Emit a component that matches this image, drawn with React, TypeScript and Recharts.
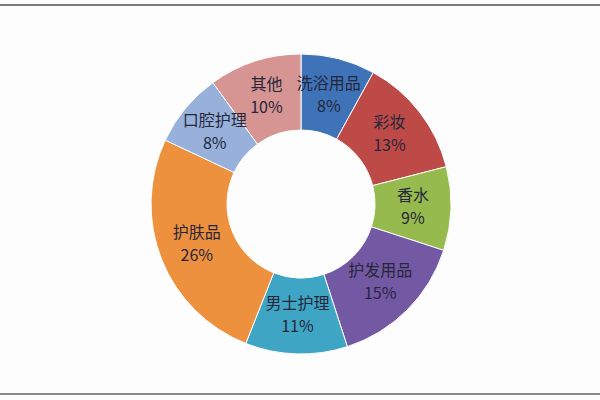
import React from 'react';
import { PieChart, Pie, Cell } from 'recharts';

const categories = ['洗浴用品', '彩妆', '香水', '护发用品', '男士护理', '护肤品', '口腔护理', '其他'];
const shares = [8, 13, 9, 15, 11, 26, 8, 10];
const COLORS = ['#3F73B8', '#BD4A47', '#97BA4E', '#7359A4', '#3FA5C4', '#EE913F', '#97B1DA', '#D69593'];

const data = categories.map((name, i) => ({ name, value: shares[i] }));

const RADIAN = Math.PI / 180;

const renderLabel = (props: any) => {
  const { cx, cy, midAngle, innerRadius, outerRadius, index } = props;
  const r = (innerRadius + outerRadius) / 2;
  const x = cx + r * Math.cos(-midAngle * RADIAN);
  const y = cy + r * Math.sin(-midAngle * RADIAN);
  return (
    <text
      x={x}
      y={y}
      textAnchor="middle"
      fill="#26263a"
      fontSize={16}
      fontFamily="'Noto Sans CJK SC', sans-serif"
    >
      <tspan x={x} dy={-7}>{categories[index]}</tspan>
      <tspan x={x} dy={23}>{shares[index]}%</tspan>
    </text>
  );
};

const App: React.FC = () => {
  return (
    <div
      style={{
        position: 'absolute',
        left: 0,
        top: 0,
        width: 600,
        height: 400,
        background: '#fdfdfe'
      }}
    >
      {/* frame lines top and bottom */}
      <div style={{ position: 'absolute', left: 0, top: 4, width: 600, height: 0, borderTop: '2px solid #7a7a7a' }} />
      <div style={{ position: 'absolute', left: 0, top: 393, width: 600, height: 0, borderTop: '2px solid #8a8a8a' }} />
      <PieChart width={600} height={400}>
        <Pie
          data={data}
          dataKey="value"
          cx={296}
          cy={199}
          innerRadius={74}
          outerRadius={150}
          startAngle={90}
          endAngle={-270}
          stroke="#ffffff"
          strokeWidth={1}
          labelLine={false}
          label={renderLabel}
          isAnimationActive={false}
        >
          {data.map((entry, index) => (
            <Cell key={`cell-${index}`} fill={COLORS[index]} />
          ))}
        </Pie>
      </PieChart>
    </div>
  );
};

export default App;
